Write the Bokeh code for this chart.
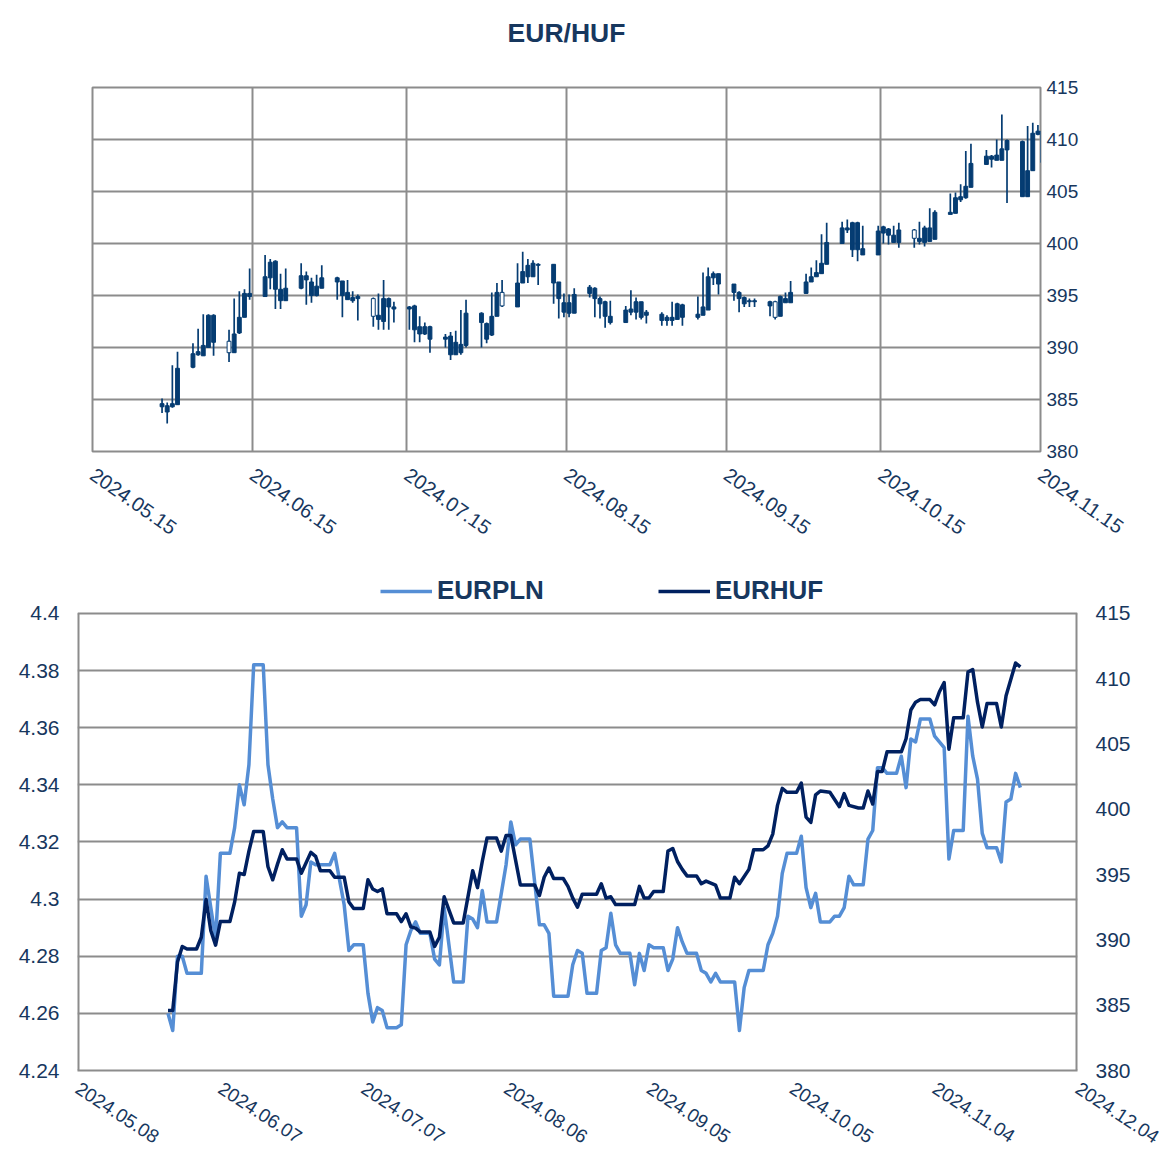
import numpy as np
import pandas as pd
from bokeh.plotting import figure
from bokeh.models import (ColumnDataSource, Range1d, LinearAxis, FixedTicker,
                          CustomJSTickFormatter, Legend, LegendItem)
from bokeh.embed import file_html
from bokeh.resources import INLINE

FONT = "Liberation Sans"
TEXT = "#17375E"
GRID = "#8C8C8C"
CANDLE = "#053C72"
PLN_COLOR = "#558ED5"
HUF_COLOR = "#002060"

# ---------------- top chart: EUR/HUF daily candles (business days) ----------------
candle_first_day = "2024-05-28"
candle_last_day = "2024-11-15"
opens = [384.3, 383.8, 384.3, 384.5,
         388.1, 389.3, 389.2, 390.0, 390.5, 390.6, 389.5, 391.4, 392.9, 394.9, 394.9, 396.7, 395.6, 394.5, 394.5, 395.7, 396.5, 395.0, 395.0, 395.7,
         396.3, 395.0, 394.6, 394.5, 394.7, 394.7, 392.7, 392.5, 393.9, 393.7, 393.7, 391.7, 391.3, 391.3, 390.8, 390.8, 389.3, 389.3, 389.5, 390.2, 392.4, 390.8, 391.2,
         393.0, 395.3, 393.9, 396.2, 396.8, 396.8, 397.9, 396.2, 394.7, 393.4, 393.3, 393.3, 395.2, 394.7, 394.2, 393.0, 392.4, 392.4, 393.4, 393.4, 392.9, 393.1,
         392.6, 392.6, 392.6, 392.7, 392.9, 392.9, 393.1, 393.6, 396.7, 396.1, 395.3, 394.7, 394.2, 394.4, 394.4, 394.0, 394.4, 393.0, 394.3, 394.3, 395.2,
         396.3, 396.8, 397.1, 398.0, 400.0, 401.3, 399.4, 399.4, 398.9, 398.9, 401.0, 400.8, 400.1, 400.1, 401.3, 400.2, 400.1, 400.2, 400.4, 402.8, 402.9, 404.2, 404.4,
         405.4, 407.6, 408.1, 408.0, 408.0, 409.0, 404.5, 404.5, 407.0, 410.5, 410.8]
highs = [385.1, 384.7, 388.3, 389.6,
         390.4, 391.8, 393.2, 393.2, 393.2, 391.7, 394.7, 395.4, 395.6, 397.6, 398.9, 398.5, 398.4, 397.1, 397.6, 398.1, 397.3, 396.7, 397.0, 397.9,
         396.8, 396.4, 396.5, 395.4, 395.1, 394.8, 395.2, 396.5, 394.8, 394.4, 394.0, 394.1, 393.0, 392.4, 392.1, 391.3, 391.5, 391.6, 393.6, 394.6, 393.4, 392.4, 395.3,
         396.2, 396.5, 398.1, 399.2, 398.5, 398.4, 398.1, 398.0, 396.3, 395.2, 395.1, 395.7, 396.0, 395.8, 394.9, 394.5, 394.5, 394.0, 395.5, 394.8, 394.4, 393.6,
         393.4, 393.1, 394.4, 394.3, 394.2, 394.9, 397.2, 397.7, 397.3, 397.1, 396.1, 395.4, 394.9, 394.7, 394.7, 394.5, 394.5, 395.0, 395.3, 396.4, 397.1,
         397.7, 398.4, 400.9, 402.0, 402.1, 402.3, 402.1, 402.1, 401.7, 401.7, 401.7, 401.5, 401.7, 402.0, 401.4, 402.1, 401.7, 403.4, 403.2, 404.8, 404.9, 405.7, 408.9,
         409.6, 409.0, 408.5, 410.0, 412.4, 410.0, 409.9, 411.3, 411.6, 411.4, 410.9]
lows = [383.7, 382.7, 384.2, 384.5,
        388.0, 389.2, 389.2, 390.0, 389.2, 388.6, 389.5, 391.3, 392.9, 394.6, 394.9, 395.6, 393.7, 393.7, 394.5, 395.6, 394.1, 394.3, 394.9, 395.7,
        394.6, 392.9, 394.6, 394.3, 392.6, 392.0, 391.7, 391.7, 391.7, 392.4, 391.7, 390.5, 390.5, 391.2, 389.5, 390.0, 388.8, 389.3, 389.3, 390.0, 390.0, 390.4, 391.1,
        393.0, 393.9, 393.9, 396.2, 396.2, 396.8, 396.0, 394.2, 392.8, 392.9, 392.9, 393.3, 394.8, 392.9, 392.8, 391.9, 392.2, 392.4, 393.1, 392.7, 392.7, 392.3,
        392.1, 392.1, 392.1, 392.7, 392.1, 392.7, 393.1, 393.6, 396.0, 395.1, 394.5, 393.4, 393.9, 393.9, 393.9, 393.0, 392.7, 393.0, 394.3, 394.3, 395.2,
        396.3, 396.8, 397.1, 398.0, 400.0, 401.0, 398.7, 398.3, 398.9, 398.9, 400.0, 399.9, 400.1, 399.6, 399.6, 399.9, 399.7, 400.2, 400.4, 402.9, 402.9, 404.0, 404.3,
        405.4, 407.6, 407.3, 408.0, 408.0, 403.9, 404.5, 404.5, 407.0, 410.4, 406.0]
closes = [384.6, 384.4, 384.6, 388.0,
          389.4, 389.6, 390.2, 393.1, 393.1, 389.5, 391.3, 392.9, 395.2, 395.2, 396.8, 398.2, 398.3, 395.6, 395.7, 396.9, 396.9, 396.3, 395.9, 396.7,
          396.7, 396.4, 395.3, 394.8, 394.9, 393.0, 393.1, 394.7, 394.7, 393.9, 393.9, 394.0, 392.0, 392.0, 392.0, 391.0, 391.1, 390.5, 390.3, 393.3, 393.3, 392.3, 393.0,
          395.3, 394.0, 396.2, 397.3, 397.9, 398.1, 398.0, 398.0, 396.3, 394.3, 394.3, 395.1, 395.8, 395.7, 394.7, 394.4, 393.0, 393.6, 393.7, 394.4, 394.4, 393.4,
          393.2, 392.9, 392.9, 394.2, 394.1, 393.2, 393.9, 396.8, 397.1, 397.1, 396.1, 395.3, 394.8, 394.5, 394.5, 394.4, 392.9, 394.9, 394.7, 395.3, 396.3,
          396.8, 397.2, 398.1, 400.1, 401.5, 401.5, 402.0, 402.0, 399.5, 401.2, 401.6, 401.4, 400.8, 401.3, 400.5, 400.5, 401.5, 401.5, 403.0, 403.0, 404.4, 404.5, 405.5,
          407.7, 408.4, 408.4, 408.5, 409.1, 409.9, 409.8, 407.0, 410.6, 410.8, 407.8]
top_x_start = "2024-05-15"
top_x_end = "2024-11-15"
top_xticks = ["2024-05-15", "2024-06-15", "2024-07-15", "2024-08-15",
              "2024-09-15", "2024-10-15", "2024-11-15"]
top_yticks = [380, 385, 390, 395, 400, 405, 410, 415]
top_title = "EUR/HUF"

# ---------------- bottom chart: EURPLN vs EURHUF ----------------
pln_days = ["05-27", "05-28", "05-29", "05-30", "05-31",
            "06-03", "06-04", "06-05", "06-06", "06-07", "06-09", "06-10", "06-11", "06-12", "06-13", "06-14", "06-16", "06-17",
            "06-18", "06-19", "06-20", "06-21", "06-23", "06-24", "06-25", "06-26", "06-27", "06-30",
            "07-01", "07-02", "07-03", "07-04", "07-05", "07-07", "07-08", "07-09", "07-10", "07-11", "07-12", "07-14", "07-15",
            "07-16", "07-17", "07-18", "07-19", "07-21", "07-22", "07-23", "07-24", "07-26", "07-28", "07-29", "07-30", "07-31",
            "08-01", "08-02", "08-04", "08-06", "08-07", "08-08", "08-09", "08-11", "08-13", "08-14", "08-15", "08-16", "08-19",
            "08-20", "08-21", "08-22", "08-23", "08-25", "08-26", "08-27", "08-28", "08-29", "08-30",
            "09-01", "09-02", "09-03", "09-04", "09-05", "09-06", "09-08", "09-09", "09-10", "09-11", "09-12", "09-13", "09-15",
            "09-16", "09-17", "09-18", "09-19", "09-20", "09-23", "09-24", "09-25", "09-26", "09-29", "09-30",
            "10-01", "10-02", "10-03", "10-04", "10-06", "10-07", "10-08", "10-09", "10-10", "10-11", "10-13", "10-14", "10-15",
            "10-16", "10-17", "10-18", "10-20", "10-21", "10-22", "10-23", "10-24", "10-25", "10-27", "10-28", "10-29", "10-30", "10-31",
            "11-01", "11-03", "11-04", "11-05", "11-06", "11-07", "11-08", "11-10", "11-11", "11-12", "11-13", "11-14", "11-15",
            "11-17", "11-18", "11-19", "11-20", "11-21", "11-22"]
pln_values = [4.260, 4.254, 4.280, 4.280, 4.274,
              4.274, 4.308, 4.297, 4.286, 4.316, 4.316, 4.325, 4.340, 4.333, 4.347, 4.382, 4.382, 4.347,
              4.335, 4.325, 4.327, 4.325, 4.325, 4.294, 4.298, 4.313, 4.312, 4.312,
              4.316, 4.307, 4.298, 4.282, 4.284, 4.284, 4.267, 4.257, 4.262, 4.261, 4.255, 4.255, 4.256,
              4.284, 4.289, 4.292, 4.288, 4.288, 4.279, 4.277, 4.297, 4.271, 4.271, 4.294, 4.293, 4.290,
              4.303, 4.292, 4.292, 4.312, 4.327, 4.319, 4.321, 4.321, 4.291, 4.291, 4.288, 4.266, 4.266,
              4.277, 4.282, 4.281, 4.267, 4.267, 4.282, 4.283, 4.295, 4.284, 4.281,
              4.281, 4.270, 4.281, 4.275, 4.284, 4.283, 4.283, 4.275, 4.279, 4.290, 4.285, 4.281, 4.281,
              4.275, 4.274, 4.271, 4.274, 4.271, 4.271, 4.254, 4.269, 4.275, 4.275, 4.284,
              4.288, 4.294, 4.309, 4.316, 4.316, 4.322, 4.304, 4.297, 4.302, 4.292, 4.292, 4.294, 4.294,
              4.297, 4.308, 4.305, 4.305, 4.321, 4.324, 4.346, 4.346, 4.344, 4.344, 4.350, 4.339, 4.356, 4.355,
              4.363, 4.363, 4.357, 4.355, 4.353, 4.314, 4.324, 4.324, 4.364, 4.350, 4.342, 4.323, 4.318,
              4.318, 4.313, 4.334, 4.335, 4.344, 4.339]
huf_days = ["05-27", "05-28", "05-29", "05-30", "05-31",
            "06-02", "06-03", "06-04", "06-05", "06-06", "06-07", "06-09", "06-10", "06-11", "06-12", "06-13", "06-14", "06-16",
            "06-17", "06-18", "06-19", "06-20", "06-21", "06-23", "06-24", "06-26", "06-27", "06-28", "06-30",
            "07-01", "07-03", "07-04", "07-05", "07-07", "07-08", "07-09", "07-10", "07-11", "07-12", "07-14", "07-15",
            "07-16", "07-17", "07-18", "07-19", "07-21", "07-22", "07-23", "07-24", "07-26", "07-28", "07-30", "07-31",
            "08-01", "08-02", "08-04", "08-05", "08-06", "08-07", "08-09", "08-12", "08-13", "08-14", "08-15", "08-16", "08-18",
            "08-19", "08-20", "08-21", "08-22", "08-25", "08-26", "08-27", "08-28", "08-29",
            "09-02", "09-03", "09-04", "09-05", "09-06", "09-08", "09-09", "09-10", "09-11", "09-12", "09-13", "09-15",
            "09-16", "09-17", "09-19", "09-20", "09-22", "09-23", "09-24", "09-26", "09-27", "09-29", "09-30",
            "10-01", "10-02", "10-03", "10-04", "10-06", "10-07", "10-08", "10-09", "10-10", "10-11", "10-13", "10-15",
            "10-16", "10-17", "10-19", "10-20", "10-21", "10-22", "10-23", "10-24", "10-25", "10-28", "10-29", "10-30", "10-31",
            "11-01", "11-03", "11-04", "11-05", "11-06", "11-07", "11-08", "11-10", "11-11", "11-12", "11-13", "11-14", "11-15",
            "11-17", "11-18", "11-19", "11-21", "11-22"]
huf_values = [384.6, 384.6, 388.3, 389.5, 389.3,
              389.3, 390.2, 393.1, 390.7, 389.6, 391.4, 391.4, 392.9, 395.1, 395.0, 396.8, 398.3, 398.3,
              395.6, 394.6, 395.8, 396.9, 396.2, 396.2, 395.1, 396.7, 396.4, 395.3, 395.3,
              394.8, 394.8, 392.9, 392.4, 392.4, 394.6, 393.9, 393.7, 393.9, 392.0, 392.0, 391.4,
              392.0, 391.0, 390.9, 390.6, 390.6, 389.5, 390.2, 393.3, 391.3, 391.3, 395.3, 394.0,
              396.0, 397.8, 397.8, 396.8, 398.0, 398.0, 394.2, 394.2, 393.4, 394.8, 395.5, 394.7, 394.7,
              394.1, 393.2, 392.5, 393.5, 393.5, 394.3, 393.2, 393.3, 392.7,
              392.7, 394.1, 393.2, 393.2, 393.7, 393.7, 396.8, 397.0, 396.0, 395.4, 394.9, 394.9,
              394.3, 394.5, 394.2, 393.2, 393.2, 394.8, 394.3, 395.4, 396.9, 396.9, 397.2,
              398.1, 400.3, 401.6, 401.3, 401.3, 402.0, 399.4, 399.0, 401.1, 401.4, 401.3, 400.2,
              401.2, 400.3, 400.1, 400.1, 401.4, 400.4, 402.9, 402.9, 404.4, 404.4, 405.4, 407.6, 408.2,
              408.4, 408.4, 408.0, 409.0, 409.7, 404.6, 407.0, 407.0, 410.5, 410.7, 408.2, 406.3, 408.1,
              408.1, 406.3, 408.7, 411.2, 410.9]
bottom_year = "2024"
bottom_x_start = "2024-05-08"
bottom_x_end = "2024-12-04"
bottom_xticks = ["2024-05-08", "2024-06-07", "2024-07-07", "2024-08-06",
                 "2024-09-05", "2024-10-05", "2024-11-04", "2024-12-04"]
pln_yticks = [4.24, 4.26, 4.28, 4.30, 4.32, 4.34, 4.36, 4.38, 4.40]
huf_yticks = [380, 385, 390, 395, 400, 405, 410, 415]
series_names = ["EURPLN", "EURHUF"]

assert len(opens) == len(highs) == len(lows) == len(closes) == 124
assert len(pln_days) == len(pln_values)
assert len(huf_days) == len(huf_values)


def ms(ts):
    return pd.Timestamp(ts).value / 1e6


def date_formatter():
    return CustomJSTickFormatter(code="""
const d = new Date(tick);
const m = String(d.getUTCMonth() + 1).padStart(2, "0");
const dd = String(d.getUTCDate()).padStart(2, "0");
return d.getUTCFullYear() + "." + m + "." + dd;
""")


def style_axis(ax, size, standoff):
    ax.axis_line_color = None
    ax.major_tick_line_color = None
    ax.minor_tick_line_color = None
    ax.major_tick_out = 0
    ax.major_tick_in = 0
    ax.minor_tick_out = 0
    ax.minor_tick_in = 0
    ax.major_label_text_font = FONT
    ax.major_label_text_font_size = size
    ax.major_label_text_color = TEXT
    ax.major_label_standoff = standoff


# ---------------- top figure ----------------
p1 = figure(width=1168, height=560, x_axis_type="datetime", y_axis_location="right",
            x_range=Range1d(ms(top_x_start), ms(top_x_end)), y_range=Range1d(380, 415),
            output_backend="svg", toolbar_location=None,
            min_border_left=92, min_border_right=128, min_border_top=87, min_border_bottom=109)
p1.outline_line_color = GRID
p1.outline_line_width = 2
p1.xaxis.ticker = FixedTicker(ticks=[ms(t) for t in top_xticks], minor_ticks=[])
p1.xaxis.formatter = date_formatter()
p1.xaxis.major_label_orientation = -0.61
p1.yaxis.ticker = FixedTicker(ticks=top_yticks, minor_ticks=[])
style_axis(p1.xaxis[0], "20px", 21)
style_axis(p1.yaxis[0], "19px", 6)
for g in (p1.xgrid[0], p1.ygrid[0]):
    g.grid_line_color = GRID
    g.grid_line_width = 2

# chart title drawn as the label of a tick-less axis above the plot
title_axis = LinearAxis(ticker=FixedTicker(ticks=[], minor_ticks=[]), axis_label=top_title)
style_axis(title_axis, "1px", 0)
title_axis.axis_label_text_font = FONT
title_axis.axis_label_text_font_size = "26.5px"
title_axis.axis_label_text_font_style = "bold"
title_axis.axis_label_text_color = TEXT
title_axis.axis_label_standoff = 40
p1.add_layout(title_axis, "above")

cdates = pd.bdate_range(candle_first_day, candle_last_day)
assert len(cdates) == len(opens)
o = np.array(opens)
c = np.array(closes)
src = ColumnDataSource(dict(
    x=cdates + pd.Timedelta(hours=12),
    high=highs, low=lows,
    top=np.maximum(o, c), bottom=np.minimum(o, c),
    fill=[CANDLE if cc >= oo else "white" for oo, cc in zip(o, c)],
))
p1.segment(x0="x", y0="low", x1="x", y1="high", source=src, line_color=CANDLE, line_width=1.7)
p1.vbar(x="x", width=0.75 * 86400000, top="top", bottom="bottom", source=src,
        fill_color="fill", line_color=CANDLE, line_width=1)

# ---------------- bottom figure ----------------
# the plotting area is extended upwards by a strip that holds the legend
pln_lo, pln_hi = pln_yticks[0], pln_yticks[-1]
huf_lo, huf_hi = huf_yticks[0], huf_yticks[-1]
legend_pad = 0.015
huf_pad = legend_pad * (huf_hi - huf_lo) / (pln_hi - pln_lo)

p2 = figure(width=1168, height=595, x_axis_type="datetime",
            x_range=Range1d(ms(bottom_x_start), ms(bottom_x_end)),
            y_range=Range1d(pln_lo, pln_hi + legend_pad),
            output_backend="svg", toolbar_location=None,
            min_border_left=77, min_border_right=91, min_border_top=10, min_border_bottom=85)
p2.extra_y_ranges = {"huf": Range1d(huf_lo, huf_hi + huf_pad)}
p2.outline_line_color = None
p2.xgrid.grid_line_color = None
p2.ygrid.grid_line_color = GRID
p2.ygrid.grid_line_width = 2

# left / right borders of the plotting area (from lowest to highest tick)
p2.segment(x0=[ms(bottom_x_start), ms(bottom_x_end)], x1=[ms(bottom_x_start), ms(bottom_x_end)],
           y0=[pln_lo, pln_lo], y1=[pln_hi, pln_hi], line_color=GRID, line_width=4)

pln_x = pd.to_datetime([bottom_year + "-" + d for d in pln_days])
huf_x = pd.to_datetime([bottom_year + "-" + d for d in huf_days])
r_pln = p2.line(pln_x, pln_values, line_color=PLN_COLOR, line_width=3.5, line_join="round")
r_huf = p2.line(huf_x, huf_values, line_color=HUF_COLOR, line_width=3.5, line_join="round",
                y_range_name="huf")

p2.xaxis.ticker = FixedTicker(ticks=[ms(t) for t in bottom_xticks], minor_ticks=[])
p2.xaxis.formatter = date_formatter()
p2.xaxis.major_label_orientation = -0.58
style_axis(p2.xaxis[0], "19px", 16)
p2.xaxis.axis_line_color = GRID
p2.xaxis.axis_line_width = 2
p2.yaxis.ticker = FixedTicker(ticks=pln_yticks, minor_ticks=[])
p2.yaxis.formatter = CustomJSTickFormatter(code="return String(Math.round(tick * 100) / 100);")
style_axis(p2.yaxis[0], "21px", 18)

ax_r = LinearAxis(y_range_name="huf", ticker=FixedTicker(ticks=huf_yticks, minor_ticks=[]))
style_axis(ax_r, "21px", 18)
p2.add_layout(ax_r, "right")

legend = Legend(items=[LegendItem(label=series_names[0], renderers=[r_pln]),
                       LegendItem(label=series_names[1], renderers=[r_huf])],
                orientation="horizontal", location=(303, 464))
legend.label_text_font = FONT
legend.label_text_font_size = "26px"
legend.label_text_font_style = "bold"
legend.label_text_color = TEXT
legend.glyph_width = 52
legend.glyph_height = 24
legend.label_standoff = 5
legend.spacing = 114
legend.padding = 0
legend.margin = 0
legend.border_line_color = None
legend.background_fill_alpha = 0
p2.add_layout(legend)

open("out.html", "w").write(file_html([p1, p2], INLINE))
